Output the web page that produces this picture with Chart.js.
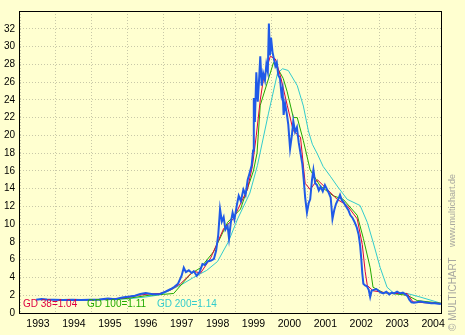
<!DOCTYPE html>
<html>
<head>
<meta charset="utf-8">
<script src="https://cdn.jsdelivr.net/npm/chart.js@4"></script>
<style>
  html, body { margin: 0; padding: 0; background: #FFFFD0; }
  #wrap { width: 465px; height: 335px; }
</style>
</head>
<body>
<div id="wrap"><canvas id="chart" width="465" height="335"></canvas></div>
<script>
// price (blue), x in decimal years
const priceYears = [1993.45,1993.60,1993.75,1993.95,1994.20,1994.45,1994.70,1994.95,1995.20,1995.45,1995.65,1995.85,
  1996.05,1996.20,1996.35,1996.50,1996.70,1996.90,1997.05,1997.20,1997.30,1997.40,1997.50,1997.56,1997.62,1997.70,
  1997.78,1997.84,1997.92,1998.00,1998.08,1998.15,1998.22,1998.32,1998.40,1998.46,1998.52,1998.57,1998.62,1998.67,
  1998.72,1998.78,1998.82,1998.87,1998.92,1998.97,1999.04,1999.09,1999.15,1999.22,1999.28,1999.34,1999.39,1999.45,
  1999.49,1999.51,1999.54,1999.58,1999.62,1999.66,1999.69,1999.73,1999.77,1999.82,1999.86,1999.90,1999.93,1999.96,
  1999.99,2000.03,2000.07,2000.11,2000.15,2000.19,2000.24,2000.28,2000.31,2000.34,2000.38,2000.43,2000.47,2000.52,
  2000.57,2000.61,2000.66,2000.71,2000.76,2000.81,2000.86,2000.90,2000.94,2000.99,2001.04,2001.08,2001.13,2001.17,
  2001.22,2001.27,2001.32,2001.37,2001.43,2001.49,2001.55,2001.60,2001.65,2001.70,2001.75,2001.80,2001.86,2001.91,
  2001.96,2002.02,2002.08,2002.14,2002.20,2002.26,2002.32,2002.38,2002.43,2002.47,2002.50,2002.53,2002.56,2002.61,
  2002.66,2002.71,2002.75,2002.79,2002.85,2002.92,2002.98,2003.05,2003.12,2003.20,2003.28,2003.35,2003.42,2003.50,
  2003.58,2003.66,2003.73,2003.79,2003.84,2003.90,2003.97,2004.05,2004.15,2004.25,2004.35,2004.45,2004.55,2004.65,2004.72];
const priceValues = [1.50,1.58,1.52,1.50,1.45,1.50,1.45,1.48,1.52,1.62,1.55,1.75,
  1.85,1.95,2.15,2.25,2.10,2.15,2.40,2.70,2.95,3.30,4.20,5.10,4.60,4.80,
  4.50,4.70,4.20,4.60,5.50,5.40,5.80,5.90,6.10,7.00,8.80,11.70,10.30,10.80,
  9.40,9.80,8.40,10.20,11.30,10.50,12.20,13.20,12.60,13.90,13.30,15.00,15.70,16.60,
  18.30,24.20,21.50,27.10,23.80,26.50,28.90,25.60,27.00,26.20,28.00,27.20,32.60,29.00,
  31.00,29.40,28.60,27.80,28.20,26.80,26.40,24.60,25.20,22.30,23.60,22.40,21.20,18.50,
  20.00,21.60,20.40,20.90,19.20,18.00,16.80,15.00,13.00,11.30,12.40,12.80,15.00,16.10,
  14.60,14.40,13.80,14.20,13.70,14.40,13.90,13.50,13.00,10.60,11.60,12.30,12.80,13.30,
  12.70,12.40,12.00,11.60,11.00,10.70,10.20,9.60,8.80,7.60,6.20,4.50,3.30,3.10,
  3.00,2.60,1.80,2.50,2.60,2.70,2.50,2.30,2.20,2.40,2.10,2.30,2.20,2.40,
  2.20,2.30,2.10,1.90,1.50,1.20,1.15,1.20,1.30,1.20,1.15,1.10,1.10,1.05,1.00];

// GD 38 (red)
const gd38Years = [1993.55,1994.0,1994.5,1995.0,1995.5,1996.0,1996.3,1996.6,1996.9,1997.2,1997.47,1997.83,1998.03,1998.31,
  1998.67,1998.94,1999.33,1999.47,1999.58,1999.69,1999.78,1999.97,2000.11,2000.25,2000.44,2000.61,2000.81,2000.94,
  2001.08,2001.28,2001.56,2001.83,2002.11,2002.39,2002.53,2002.61,2002.67,2002.83,2003.31,2003.78,2003.94,2004.30,2004.72];
const gd38Values = [1.52,1.50,1.47,1.47,1.55,1.75,2.00,2.15,2.20,2.60,3.30,4.70,4.50,6.20,
  9.50,10.60,13.90,16.50,20.00,24.00,26.40,28.90,28.60,26.70,23.40,20.50,19.80,14.60,
  13.90,15.00,13.90,12.80,12.10,10.60,7.70,4.70,3.10,2.50,2.20,2.20,1.25,1.15,1.08];

// GD 100 (green)
const gd100Years = [1993.75,1994.3,1994.9,1995.5,1996.0,1996.6,1997.0,1997.28,1997.75,1998.03,1998.39,1998.78,1999.14,
  1999.50,1999.60,1999.69,1999.89,2000.06,2000.25,2000.33,2000.44,2000.61,2000.72,2000.89,2001.08,2001.36,2001.72,
  2002.00,2002.39,2002.56,2002.75,2002.83,2003.11,2003.78,2004.06,2004.72];
const gd100Values = [1.52,1.50,1.48,1.52,1.65,2.00,2.10,2.20,4.40,5.10,6.90,10.20,11.70,
  16.00,18.00,23.40,26.00,28.20,27.00,26.40,24.90,22.00,22.00,19.40,16.10,14.30,13.20,
  12.80,11.00,8.40,5.10,2.90,2.30,2.00,1.40,1.10];

// GD 200 (cyan)
const gd200Years = [1994.0,1994.5,1995.5,1996.0,1996.5,1996.9,1997.0,1997.5,1997.83,1998.2,1998.5,1998.8,1999.06,1999.4,
  1999.61,1999.92,2000.17,2000.31,2000.47,2000.72,2000.89,2001.03,2001.14,2001.28,2001.44,2001.64,2001.83,2002.11,
  2002.47,2002.67,2002.83,2003.03,2003.22,2003.39,2003.78,2004.14,2004.72];
const gd200Values = [1.50,1.50,1.50,1.60,1.80,2.05,2.20,3.20,4.00,4.80,5.80,8.00,10.60,13.50,
  16.60,22.50,27.00,27.50,27.30,25.60,23.30,20.50,19.00,17.90,16.50,15.40,14.30,12.80,
  12.10,10.20,8.00,5.10,2.90,2.30,2.20,1.80,1.10];

const legendTexts = ["GD 38=1.04", "GD 100=1.11", "GD 200=1.14"];

const BG = "#FFFFD0";
const FONT = "'Liberation Sans', Arial, sans-serif";
const col = { price: "#1F5AE8", gd38: "#DD0040", gd100: "#22AA00", gd200: "#33CCCC" };

function pts(xs, ys) { return xs.map((x, i) => ({ x: x, y: ys[i] })); }

const decor = {
  id: "decor",
  beforeDraw(chart) {
    const c = chart.ctx;
    c.save();
    c.fillStyle = BG;
    c.fillRect(0, 0, chart.width, chart.height);
    c.restore();
  },
  afterDraw(chart) {
    const c = chart.ctx, a = chart.chartArea;
    c.save();
    c.strokeStyle = "#000";
    c.lineWidth = 1;
    c.strokeRect(Math.round(a.left) - 0.5, Math.round(a.top) + 0.5,
      Math.round(a.right - a.left), Math.round(a.bottom - a.top));
    // GD labels
    c.font = "10px " + FONT;
    c.textBaseline = "middle";
    const lx = [23, 87, 157];
    [col.gd38, col.gd100, col.gd200].forEach((cc, i) => {
      c.fillStyle = cc;
      c.fillText(legendTexts[i], lx[i], 304);
    });
    // watermark
    c.translate(453, 331);
    c.rotate(-Math.PI / 2);
    c.fillStyle = "#A8A8A0";
    c.textBaseline = "middle";
    c.font = "10px " + FONT;
    c.fillText("\u00A9 MULTICHART", 0, 0);
    c.font = "9px " + FONT;
    c.fillText("www.multichart.de", 84, 0);
    c.restore();
  }
};

function line(data, color, w) {
  return {
    data: data, borderColor: color, borderWidth: w, pointRadius: 0,
    tension: 0, fill: false
  };
}

new Chart(document.getElementById("chart").getContext("2d"), {
  type: "line",
  data: {
    datasets: [
      line(pts(priceYears, priceValues), col.price, 2),
      line(pts(gd38Years, gd38Values), col.gd38, 1),
      line(pts(gd100Years, gd100Values), col.gd100, 1),
      line(pts(gd200Years, gd200Values), col.gd200, 1)
    ]
  },
  options: {
    responsive: false,
    animation: false,
    layout: { padding: { left: 0, right: 23, top: 4, bottom: 0 } },
    plugins: { legend: { display: false }, tooltip: { enabled: false } },
    scales: {
      x: {
        type: "linear",
        min: 1993,
        max: 2004.75,
        afterFit(s) { s.height = 22; },
        ticks: {
          stepSize: 1,
          includeBounds: false,
          labelOffset: 18,
          padding: 5,
          color: "#000",
          font: { family: FONT, size: 10.5 },
          callback: v => String(v)
        },
        grid: { color: "#C8C8A8", drawTicks: false, lineWidth: 1 },
        border: { display: false, dash: [1, 2] }
      },
      y: {
        min: 0,
        max: 34,
        afterFit(s) { s.width = 20; },
        ticks: {
          stepSize: 2,
          padding: 5,
          color: "#000",
          font: { family: FONT, size: 10 },
          callback: v => (v >= 34 ? "" : String(v))
        },
        grid: { color: "#C8C8A8", drawTicks: false, lineWidth: 1 },
        border: { display: false, dash: [1, 2] }
      }
    }
  },
  plugins: [decor]
});
</script>
</body>
</html>
